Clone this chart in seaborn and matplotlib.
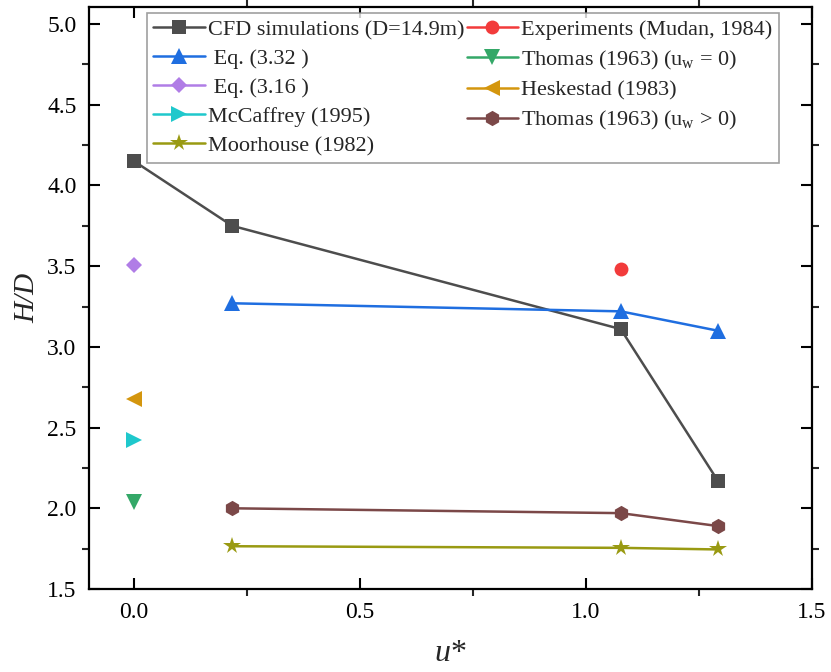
import matplotlib
matplotlib.use("Agg")
import matplotlib.pyplot as plt
from matplotlib.ticker import MultipleLocator
import seaborn as sns

# ---- data ----
u_cfd = [0.0, 0.217, 1.077, 1.292]
h_cfd = [4.15, 3.75, 3.11, 2.17]

u_eq332 = [0.217, 1.077, 1.292]
h_eq332 = [3.27, 3.22, 3.10]

u_exp = [1.077]
h_exp = [3.48]

u_eq316 = [0.0]
h_eq316 = [3.51]

u_hesk = [0.0]
h_hesk = [2.68]

u_mcc = [0.0]
h_mcc = [2.42]

u_thomas0 = [0.0]
h_thomas0 = [2.04]

u_thomasw = [0.217, 1.077, 1.292]
h_thomasw = [2.00, 1.97, 1.89]

u_moor = [0.217, 1.077, 1.292]
h_moor = [1.765, 1.755, 1.745]

x_ticks = [0.0, 0.5, 1.0, 1.5]
y_ticks = [1.5, 2.0, 2.5, 3.0, 3.5, 4.0, 4.5, 5.0]

sns.set_theme(style="ticks")
plt.rcParams["font.family"] = ["Liberation Serif", "DejaVu Serif"]
plt.rcParams["mathtext.fontset"] = "custom"
plt.rcParams["mathtext.rm"] = "Liberation Serif"
plt.rcParams["mathtext.it"] = "Liberation Serif:italic"

fig = plt.figure(figsize=(8.31, 6.72), dpi=100)
ax = fig.add_axes([0.107, 0.1235, 0.870, 0.866])

series = [
    (u_cfd, h_cfd, "#4d4d4d", "s", 9.5, "CFD simulations (D=14.9m)"),
    (u_eq332, h_eq332, "#1f6ee0", "^", 11.5, " Eq. (3.32 )"),
    (u_eq316, h_eq316, "#b07de6", "D", 8.5, " Eq. (3.16 )"),
    (u_mcc, h_mcc, "#1fc8cc", ">", 11.5, "McCaffrey (1995)"),
    (u_moor, h_moor, "#999a12", "*", 13, "Moorhouse (1982)"),
    (u_exp, h_exp, "#f23b3b", "o", 10, "Experiments (Mudan, 1984)"),
    (u_thomas0, h_thomas0, "#34a868", "v", 11.5, r"Thomas (1963) (u$_\mathrm{w}$ = 0)"),
    (u_hesk, h_hesk, "#d4960e", "<", 11.5, "Heskestad (1983)"),
    (u_thomasw, h_thomasw, "#7b4848", "h", 11, r"Thomas (1963) (u$_\mathrm{w}$ > 0)"),
]

for xs, ys, c, m, ms, lab in series:
    sns.lineplot(x=xs, y=ys, ax=ax, color=c, marker=m, markersize=ms,
                 markeredgewidth=0, linewidth=1.8, label=lab, errorbar=None,
                 sort=False)

ax.set_xlim(-0.1, 1.5)
ax.set_ylim(1.5, 5.105)
ax.set_xticks(x_ticks)
ax.set_yticks(y_ticks)
ax.set_xticklabels([f"{v:.1f}" for v in x_ticks])
ax.set_yticklabels([f"{v:.1f}" for v in y_ticks])
ax.xaxis.set_minor_locator(MultipleLocator(0.25))
ax.yaxis.set_minor_locator(MultipleLocator(0.25))

ax.tick_params(which="major", direction="in", length=8, width=1.5,
               top=True, right=True, labelsize=17, pad=9, colors="black")
ax.tick_params(which="minor", direction="out", length=5, width=1.5,
               top=True, right=True)
for s in ax.spines.values():
    s.set_linewidth(1.6)
    s.set_color("black")

ax.set_xlabel("$u$*", fontsize=23, labelpad=12)
ax.set_ylabel("H/D", fontsize=21, style="italic", labelpad=5)

handles, labels = ax.get_legend_handles_labels()
leg = ax.legend(handles, labels, ncol=2, loc="upper left",
                bbox_to_anchor=(0.08, 0.99), borderaxespad=0,
                fontsize=16, frameon=True, fancybox=False,
                edgecolor="#888888", handlelength=2.3, handletextpad=0.15,
                columnspacing=0.1, labelspacing=0.38, borderpad=0.3)
leg.get_frame().set_linewidth(1.2)

fig.savefig("out.png", dpi=100)
